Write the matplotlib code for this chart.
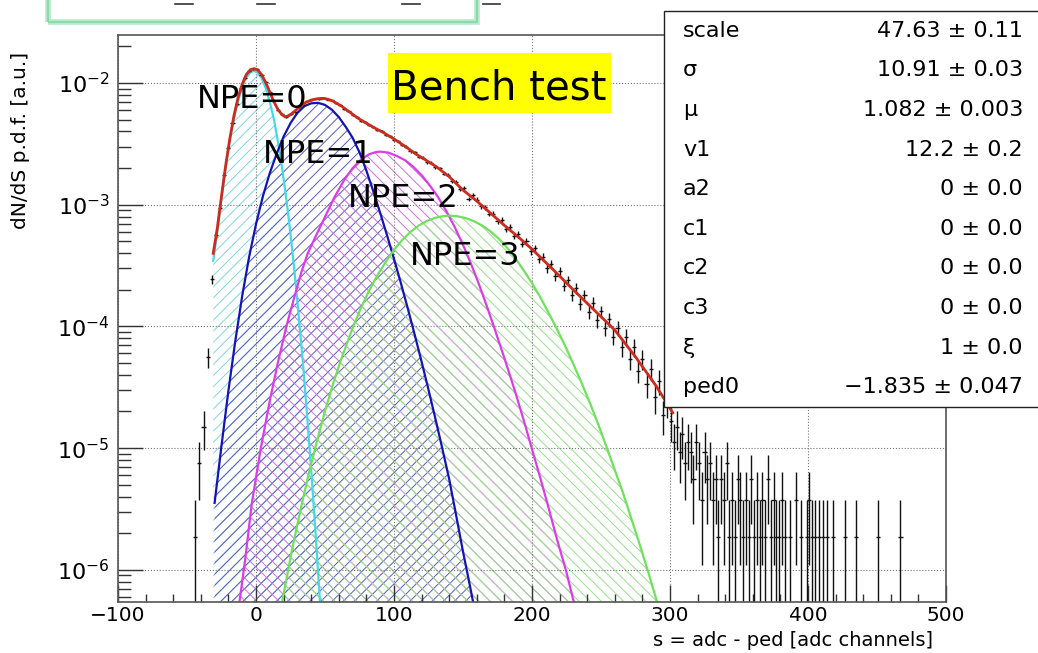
import numpy as np
import matplotlib
matplotlib.use('Agg')
import matplotlib.pyplot as plt
from matplotlib.patches import Rectangle
from matplotlib.lines import Line2D
from matplotlib.ticker import LogLocator, MultipleLocator, NullFormatter

plt.rcParams['font.family'] = ['DejaVu Sans']
plt.rcParams['hatch.linewidth'] = 0.7

# ---- values (log10 of the p.d.f.) ----
npe0_x = [-31, -28, -25, -22, -19, -16, -13, -10, -7, -4, -1.6, 1, 4, 7, 10, 13, 16, 19, 22, 25,
          28, 31, 34, 37, 40, 43, 46, 48]
npe0_log = [-3.46, -3.22, -2.94, -2.69, -2.47, -2.29, -2.15, -2.03, -1.955, -1.911, -1.90, -1.913,
            -1.96, -2.04, -2.155, -2.30, -2.49, -2.705, -2.955, -3.24, -3.56, -3.92, -4.30, -4.73,
            -5.18, -5.67, -6.20, -6.55]

npe1_x = [-30, -25, -20, -15, -10, -5, 0, 5, 10, 15, 20, 25, 30, 35, 40, 45, 50, 55, 60, 65,
          70, 75, 80, 85, 90, 95, 100, 105, 110, 115, 120, 125, 130, 135, 140, 145, 150, 155, 160]
npe1_log = [-5.45, -4.98, -4.53, -4.12, -3.75, -3.43, -3.16, -2.93, -2.74, -2.58, -2.44, -2.33,
            -2.245, -2.19, -2.167, -2.163, -2.18, -2.22, -2.28, -2.36, -2.45, -2.57, -2.72, -2.89,
            -3.068, -3.253, -3.445, -3.645, -3.853, -4.068, -4.29, -4.52, -4.758, -5.003, -5.255,
            -5.55, -5.85, -6.13, -6.42]

npe2_x = [-13, -8, -3, 3.5, 10, 16, 22, 28, 33, 37.5, 43, 50, 57, 64, 70, 76, 82, 87, 90, 96,
          102, 108, 114, 120, 126, 132, 138, 144, 150, 156, 162, 168, 172, 180, 188, 194, 200,
          206, 212, 218, 224.5, 230, 234]
npe2_log = [-6.35, -5.93, -5.45, -5.0, -4.61, -4.29, -4.0, -3.75, -3.55, -3.40, -3.265, -3.10,
            -2.935, -2.795, -2.70, -2.63, -2.585, -2.567, -2.564, -2.572, -2.60, -2.634, -2.689,
            -2.758, -2.843, -2.939, -3.054, -3.184, -3.33, -3.491, -3.667, -3.858, -3.99, -4.26,
            -4.544, -4.771, -5.008, -5.245, -5.49, -5.745, -6.0, -6.25, -6.42]

npe3_x = [19, 26, 32, 38, 44, 50, 56, 62, 70, 76, 82, 88, 94, 100, 106, 112, 118, 124, 130, 136,
          140, 146, 152, 158, 164, 170, 176, 182, 188, 194, 200, 206, 212, 218, 224, 230, 236,
          242, 248, 254, 260, 266, 272, 278, 284, 290, 294]
npe3_log = [-6.26, -5.84, -5.52, -5.22, -4.95, -4.696, -4.467, -4.26, -4.013, -3.85, -3.706,
            -3.578, -3.47, -3.37, -3.29, -3.223, -3.17, -3.133, -3.107, -3.093, -3.09, -3.095,
            -3.11, -3.136, -3.172, -3.22, -3.28, -3.353, -3.44, -3.54, -3.644, -3.76, -3.888,
            -4.02, -4.16, -4.31, -4.466, -4.63, -4.805, -4.99, -5.18, -5.37, -5.58, -5.79, -6.01,
            -6.24, -6.40]

fit_x = [-31, -28, -25, -22, -19, -16, -13, -10, -7, -4, -1.5, 1, 4, 7, 10, 13, 16, 19, 21, 24,
         28, 32, 36, 40, 44, 48, 52, 56, 62, 68, 74, 80, 86, 92, 100, 108, 116, 124, 131, 140,
         150, 160, 170, 180, 190, 200, 215, 230, 245, 260, 275, 290, 302]
fit_log = [-3.40, -3.19, -2.93, -2.68, -2.46, -2.27, -2.12, -2.01, -1.93, -1.89, -1.882, -1.89,
           -1.93, -1.995, -2.075, -2.155, -2.22, -2.262, -2.277, -2.268, -2.232, -2.192, -2.16,
           -2.14, -2.13, -2.126, -2.133, -2.15, -2.19, -2.24, -2.29, -2.33, -2.37, -2.405, -2.46,
           -2.52, -2.585, -2.64, -2.69, -2.77, -2.88, -2.97, -3.07, -3.17, -3.265, -3.365, -3.53,
           -3.70, -3.865, -4.03, -4.25, -4.49, -4.71]

# histogram: bin centres every 3 channels from -44 to 298, entries per bin
hist_x = np.arange(-44, 299, 3)
hist_counts = [1, 4, 8, 30, 130, 301, 507, 941, 1552, 2510,
               3580, 4840, 5870, 6720, 6950, 6910, 6240, 5450, 4470, 3770,
               3190, 2950, 2810, 2970, 3110, 3390, 3540, 3770, 3850, 3980,
               3950, 4010, 3910, 3850, 3640, 3530, 3290, 3160, 2930, 2820,
               2630, 2570, 2400, 2340, 2190, 2150, 2010, 1960, 1830, 1790,
               1650, 1600, 1470, 1440, 1320, 1300, 1200, 1185, 1090, 1068,
               962, 945, 840, 822, 718, 735, 600, 640, 590, 520,
               510, 450, 452, 390, 400, 338, 350, 296, 305, 255,
               268, 222, 236, 190, 200, 160, 175, 138, 152, 115,
               128, 96, 110, 82, 97, 70, 84, 60, 71, 52,
               61, 44, 52, 36, 44, 29, 36, 23, 29, 18,
               24, 14, 19, 10, 13]
tail_x = [301, 303, 305, 307, 309, 311, 313, 315, 317, 319, 321, 323, 325, 327, 329, 331, 333,
          335, 337, 339, 341, 343, 345, 347, 349, 351, 353, 355, 357, 359, 361, 363, 365, 367,
          369, 371, 373, 375, 377, 379, 381, 383, 387, 391, 395, 399, 401, 403, 405, 408, 411,
          414, 418, 427, 435, 451, 467]
tail_counts = [9, 6, 8, 5, 7, 4, 6, 5, 3, 6, 4, 2, 5, 3, 4, 2, 3, 1, 3, 2, 4, 1, 2, 1, 3, 2, 1,
               2, 1, 3, 1, 2, 1, 2, 1, 3, 1, 2, 1, 1, 2, 1, 1, 2, 1, 1, 2, 1, 1, 1, 1, 1, 1, 1,
               1, 1, 1]
count_unit = 1.87e-6   # p.d.f. value of a single entry

stats_names = ['scale', 'σ', 'μ', 'v1', 'a2', 'c1', 'c2', 'c3', 'ξ', 'ped0']
stats_values = ['47.63 ± 0.11', '10.91 ± 0.03', '1.082 ± 0.003', '12.2 ± 0.2', '0 ± 0.0',
                '0 ± 0.0', '0 ± 0.0', '0 ± 0.0', '1 ± 0.0', '−1.835 ± 0.047']

W, H = 1038., 653.
fig = plt.figure(figsize=(W / 100, H / 100), dpi=100)
ax = fig.add_axes([118 / W, 1 - 602 / H, 828 / W, 567 / H])

# NPE components: hatched areas + outline
components = [
    (npe0_x, npe0_log, '#45d9e6', '#7fd6e4', '///'),
    (npe1_x, npe1_log, '#1414b4', '#5a5ac8', '///'),
    (npe2_x, npe2_log, '#dc3ce6', '#cc70dc', '\\\\\\'),
    (npe3_x, npe3_log, '#6ee25a', '#96e28c', '\\\\\\'),
]
for cx, clog, lc, hc, hatch in components:
    cy = 10 ** np.array(clog)
    ax.fill_between(cx, 1e-9, cy, facecolor='none', edgecolor=hc, hatch=hatch, linewidth=0,
                    zorder=1)
    ax.plot(cx, cy, color=lc, lw=1.6, zorder=2)

# data histogram with Poisson errors
hx = np.concatenate([hist_x, tail_x])
hn = np.concatenate([hist_counts, tail_counts]).astype(float)
hy = hn * count_unit
herr = np.sqrt(hn) * count_unit
lo = np.minimum(herr, hy * 0.999)
ax.errorbar(hx, hy, yerr=[lo, herr], xerr=1.5, fmt='none', ecolor='#111111', elinewidth=1.0,
            zorder=2.2)

# fit
ax.plot(fit_x, 10 ** np.array(fit_log), color='#cc2b1d', lw=2.0, zorder=3)

# NPE labels
ax.text(-43.0, 6.19e-3, 'NPE=0', fontsize=23, va='baseline', zorder=4)
ax.text(5.3, 2.19e-3, 'NPE=1', fontsize=23, va='baseline', zorder=4)
ax.text(66.9, 9.64e-4, 'NPE=2', fontsize=23, va='baseline', zorder=4)
ax.text(111.6, 3.2e-4, 'NPE=3', fontsize=23, va='baseline', zorder=4)

ax.set_yscale('log')
ax.set_xlim(-100, 500)
ax.set_ylim(5.44e-7, 2.48e-2)
ax.xaxis.set_major_locator(MultipleLocator(100))
ax.xaxis.set_minor_locator(MultipleLocator(20))
ax.yaxis.set_major_locator(LogLocator(base=10))
ax.yaxis.set_minor_locator(LogLocator(base=10, subs=np.arange(2, 10)))
ax.yaxis.set_minor_formatter(NullFormatter())
ax.tick_params(axis='x', which='major', direction='in', length=12, width=1, labelsize=14.5, pad=3,
               color='#333333', top=False)
ax.tick_params(axis='x', which='minor', direction='in', length=6, width=1, color='#333333', top=False)
ax.tick_params(axis='y', which='major', direction='in', length=18, width=1, labelsize=16, pad=6,
               color='#333333', right=False)
ax.tick_params(axis='y', which='minor', direction='in', length=9, width=1, color='#333333',
               right=False)
ax.grid(True, which='major', linestyle=':', color='#777777', lw=0.8)
for sp in ax.spines.values():
    sp.set_color('#555555')
    sp.set_linewidth(1.2)

ax.set_xlabel('s = adc - ped [adc channels]', fontsize=14, loc='right')
ax.xaxis.set_label_coords(815 / 828, -29 / 567)
ax.set_ylabel('dN/dS p.d.f. [a.u.]', fontsize=14.5, loc='top')
ax.yaxis.set_label_coords(-88 / 828, 550 / 567)

# stats box
fig.add_artist(Rectangle((664 / W, 1 - 407 / H), 380 / W, 396 / H, transform=fig.transFigure,
                         facecolor='white', edgecolor='#222222', lw=1.0, zorder=5))
for i, (name, val) in enumerate(zip(stats_names, stats_values)):
    yc = 1 - (11 + (i + 0.5) * 39.6) / H
    fig.text(683 / W, yc, name, fontsize=16, ha='left', va='center', zorder=6)
    fig.text(1023 / W, yc, val, fontsize=16, ha='right', va='center', zorder=6)

# "Bench test" label
fig.add_artist(Rectangle((388 / W, 1 - 113 / H), 223 / W, 60 / H, transform=fig.transFigure,
                         facecolor='#ffff00', edgecolor='none', zorder=5))
fig.text(499 / W, 1 - 100 / H, 'Bench test', fontsize=29, ha='center', va='baseline', zorder=6)

# partly cut green frame at the top
fig.add_artist(Rectangle((48 / W, 1 - 22 / H), 429 / W, 60 / H, transform=fig.transFigure,
                         fill=False, edgecolor='#b4eac9', lw=4, zorder=5))
fig.add_artist(Rectangle((48 / W, 1 - 22 / H), 429 / W, 60 / H, transform=fig.transFigure,
                         fill=False, edgecolor='#86d6a6', lw=1.2, zorder=5))
for x0, x1 in [(175, 193), (257, 275), (402, 420), (483, 500)]:
    fig.add_artist(Line2D([x0 / W, x1 / W], [1 - 4 / H, 1 - 4 / H], transform=fig.transFigure,
                          color='#333333', lw=1.2, zorder=5))

fig.savefig('out.png', dpi=100)
